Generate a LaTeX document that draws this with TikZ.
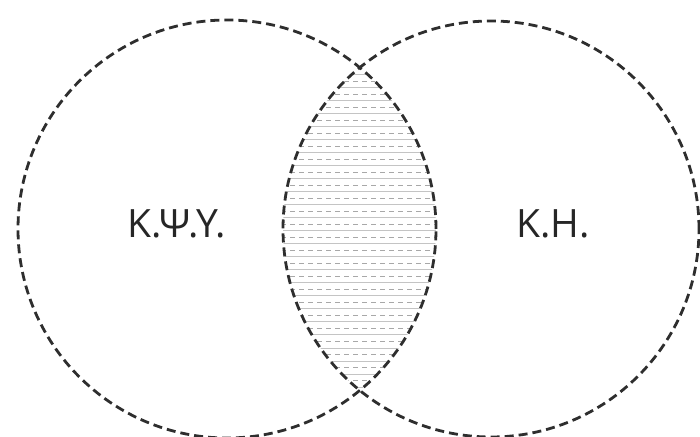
\documentclass[tikz,border=0pt]{standalone}
\usepackage{fontspec}
\setmainfont{Open Sans}
\usepackage{tikz}
\usetikzlibrary{positioning}
\definecolor{ink}{HTML}{2E2E2E}
\definecolor{hatchsolid}{HTML}{C4C4C4}
\definecolor{hatchdash}{HTML}{A8A8A8}

\begin{document}
\begin{tikzpicture}[x=1pt,y=1pt,
  setline/.style={ink,line width=2.8pt,dash pattern=on 9pt off 5pt},
  hatchline/.style={hatchsolid,line width=1pt},
  hatchdashed/.style={hatchdash,line width=1pt,dash pattern=on 5pt off 4pt},
  setlabel/.style={font=\fontsize{39}{39}\selectfont,text=black!85}]
  \useasboundingbox (0,0) rectangle (700,436);
  \coordinate (cl) at (227,207);
  \coordinate (cr) at (491,207);
  % hatched intersection
  \begin{scope}
    \clip (cl) circle (209);
    \clip (cr) circle (208);
    \foreach \k in {0,...,25} {
      \draw[hatchline] (270,361-13*\k) -- (450,361-13*\k);
      \draw[hatchdashed] (272,354.5-13*\k) -- (450,354.5-13*\k);
    }
  \end{scope}
  \draw[setline] (cl) circle (209);
  \draw[setline] (cr) circle (208);
  \node[setlabel] (kpsy) at (177,212) {Κ.Ψ.Υ.};
  \node[setlabel] (kh) at (553,212) {Κ.Η.};
\end{tikzpicture}
\end{document}
